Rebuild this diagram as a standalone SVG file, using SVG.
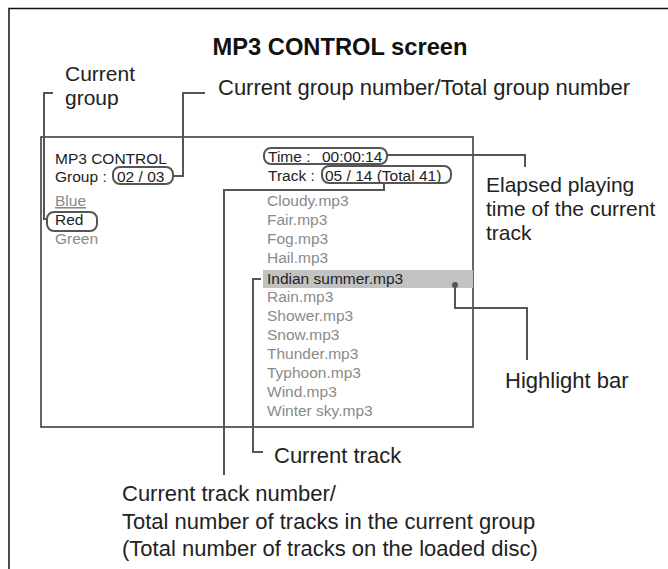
<svg xmlns="http://www.w3.org/2000/svg" width="668" height="569" viewBox="0 0 668 569">
<style>
text{font-family:"Liberation Sans",Arial,sans-serif}
.title{font-size:23.7px;font-weight:bold;fill:#111}
.lbl{font-size:22px;fill:#222}
.lbs{font-size:21px;fill:#222}
.scr{font-size:15.5px;fill:#222}
.dim{font-size:15.5px;fill:#8a8a8a}
.oval{fill:none;stroke:#555;stroke-width:2}
.conn{fill:none;stroke:#555;stroke-width:2}
</style>
<rect width="668" height="569" fill="#fff"/>
<g id="frame">
<path d="M9,569 V8.5 H668" fill="none" stroke="#111" stroke-width="1.5"/>
</g>
<text class="title" x="340" y="55" text-anchor="middle">MP3 CONTROL screen</text>
<g id="screen">
<rect x="41" y="137" width="432" height="290" fill="none" stroke="#333" stroke-width="1.5"/>
<rect x="263" y="270" width="210" height="18" fill="#c2c2c2"/>
<text class="scr" x="55" y="164">MP3 CONTROL</text>
<text class="scr" x="55" y="182">Group :</text>
<text class="scr" x="117" y="182">02 / 03</text>
<text class="dim" x="55" y="206" text-decoration="underline">Blue</text>
<text class="scr" x="55" y="225">Red</text>
<text class="dim" x="55" y="244">Green</text>
<text class="scr" x="268" y="162">Time :</text>
<text class="scr" x="322" y="162">00:00:14</text>
<text class="scr" x="268" y="181">Track :</text>
<text class="scr" x="325" y="181">05 / 14 (Total 41)</text>
<text class="dim" x="267" y="206">Cloudy.mp3</text>
<text class="dim" x="267" y="225">Fair.mp3</text>
<text class="dim" x="267" y="244">Fog.mp3</text>
<text class="dim" x="267" y="263">Hail.mp3</text>
<text class="scr" x="267" y="284">Indian summer.mp3</text>
<text class="dim" x="267" y="302">Rain.mp3</text>
<text class="dim" x="267" y="321">Shower.mp3</text>
<text class="dim" x="267" y="340">Snow.mp3</text>
<text class="dim" x="267" y="359">Thunder.mp3</text>
<text class="dim" x="267" y="378">Typhoon.mp3</text>
<text class="dim" x="267" y="397">Wind.mp3</text>
<text class="dim" x="267" y="416">Winter sky.mp3</text>
</g>
<g id="callouts">
<rect class="oval" x="113" y="167" width="60" height="17" rx="7"/>
<rect class="oval" x="47" y="212" width="50" height="19" rx="7"/>
<rect class="oval" x="264" y="148" width="123" height="16" rx="7"/>
<rect class="oval" x="322" y="166" width="129" height="17" rx="7"/>
<circle cx="455" cy="285" r="3" fill="#555"/>
</g>
<g id="connectors">
<path class="conn" d="M53,93 H44 V219 H47"/>
<path class="conn" d="M205,93 H183 V176 H173"/>
<path class="conn" d="M387,155 H525 V167"/>
<path class="conn" d="M384,183 V190 H224 V475"/>
<path class="conn" d="M261,279 H253 V452 H263"/>
<path class="conn" d="M455,285 V308 H527 V360"/>
</g>
<g id="labels">
<text class="lbs" x="65" y="81">Current</text>
<text class="lbs" x="65" y="105">group</text>
<text class="lbl" x="218" y="95">Current group number/Total group number</text>
<text class="lbs" x="486" y="192">Elapsed playing</text>
<text class="lbs" x="486" y="216">time of the current</text>
<text class="lbs" x="486" y="240">track</text>
<text class="lbl" x="505" y="388">Highlight bar</text>
<text class="lbl" x="274" y="463">Current track</text>
<text class="lbl" x="122" y="501">Current track number/</text>
<text class="lbl" x="122" y="529">Total number of tracks in the current group</text>
<text class="lbl" x="122" y="556">(Total number of tracks on the loaded disc)</text>
</g>
</svg>
